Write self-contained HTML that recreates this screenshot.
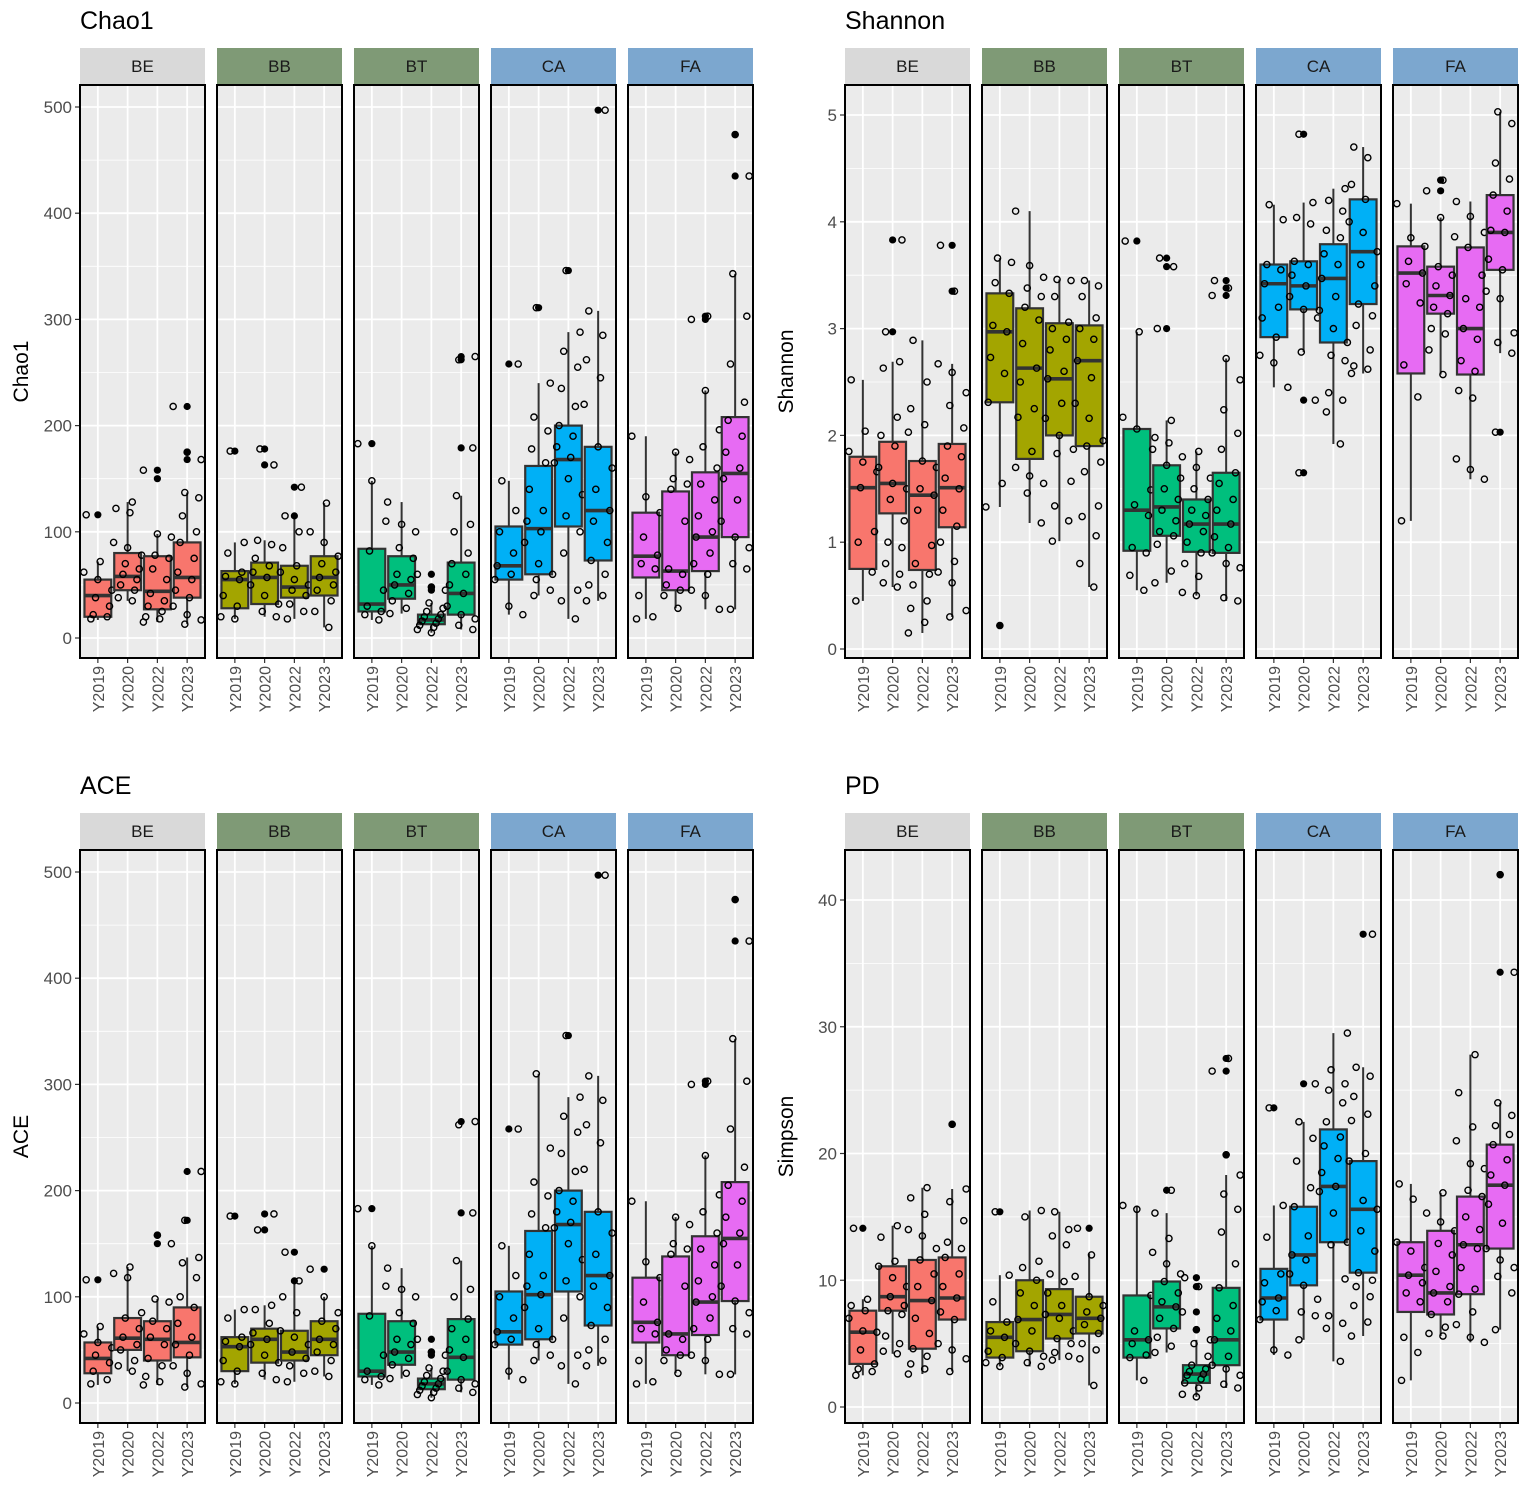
<!DOCTYPE html>
<html><head><meta charset="utf-8"><style>
html,body{margin:0;padding:0;background:#fff;}
svg{display:block;font-family:"Liberation Sans",Arial,sans-serif;}
</style></head><body>
<svg id="fig" width="1535" height="1498" viewBox="0 0 1535 1498"></svg>
<script>
const FACETS=['BE','BB','BT','CA','FA'];
const YEARS=['Y2019','Y2020','Y2022','Y2023'];
// stats per facet per year: [lo, q1, median, q3, hi]
const chao1Stats=[
[[17,20,40,55,72],[35,45,58,80,128],[15,27,44,77,98],[13,38,57,90,137]],
[[18,28,55,63,90],[20,32,57,71,92],[18,38,48,68,115],[10,40,57,77,127]],
[[17,25,32,84,148],[23,37,50,77,128],[5,13,17,22,33],[8,22,42,71,134]],
[[22,55,68,105,148],[40,60,103,162,240],[18,105,168,200,288],[35,73,120,180,308]],
[[18,57,77,118,190],[28,45,63,138,175],[27,63,95,156,233],[27,95,155,208,343]]];
const chao1Out=[[[116],[],[158,150],[218,175,168]],[[176],[178,163],[142,115],[]],[[183],[],[60,48,45],[265,262,179]],[[258],[311],[346],[497]],[[],[],[303,300],[474,435]]];
const chao1Pts=[
[[18,20,22,30,38,45,55,62,72,116],[35,38,45,50,55,60,65,70,78,85,90,118,122,128],[15,18,20,25,30,35,42,55,65,75,78,95,98,158],[13,17,22,30,38,45,55,62,75,90,100,115,132,137,168,175,218]],
[[18,20,30,40,55,58,62,80,90,176],[20,25,32,40,50,57,62,68,75,88,92,163,178],[18,25,32,40,45,50,55,62,68,85,100,115,142],[10,25,35,45,50,57,62,70,77,90,100,127]],
[[17,22,25,30,45,82,110,148,183],[23,28,35,42,50,55,60,75,85,100,107,128],[5,8,10,12,14,16,18,20,22,25,28,33,45,48,60],[8,12,18,22,30,42,50,60,70,80,100,107,134,179,262,265]],
[[22,30,55,60,68,80,100,120,148,258],[40,45,55,60,70,90,100,110,120,140,165,178,195,208,240,311],[18,35,45,80,100,115,135,150,165,170,180,190,200,218,235,255,270,288,346],[35,40,50,60,73,90,110,120,140,160,180,220,245,262,285,308,497]],
[[18,20,40,65,70,78,95,118,133,190],[28,40,45,50,60,65,110,140,145,150,168,175],[27,40,45,60,70,80,95,100,115,130,145,160,180,196,233,300,303],[27,65,70,85,95,110,130,150,160,175,190,205,222,258,303,343,435,474]]];

const shannonStats=[
[[.45,.75,1.51,1.8,2.52],[.58,1.27,1.55,1.94,2.69],[.15,.74,1.44,1.76,2.89],[.3,1.14,1.51,1.92,2.67]],
[[1.33,2.31,2.97,3.33,3.66],[1.18,1.78,2.63,3.19,4.1],[1.01,2.0,2.53,3.05,3.46],[.58,1.9,2.7,3.03,3.45]],
[[.55,.92,1.3,2.06,2.97],[.62,1.06,1.33,1.72,2.14],[.5,.91,1.17,1.4,1.85],[.45,.9,1.17,1.65,2.72]],
[[2.45,2.92,3.42,3.6,4.16],[2.78,3.18,3.4,3.63,4.18],[1.92,2.87,3.47,3.79,4.31],[2.58,3.23,3.72,4.21,4.7]],
[[1.2,2.58,3.52,3.77,4.17],[2.57,3.14,3.31,3.58,4.04],[1.59,2.57,3.0,3.76,4.19],[2.77,3.55,3.9,4.25,5.03]]];
const shannonOut=[[[],[3.83,2.97],[],[3.78,3.35]],[[.22],[],[],[]],[[3.82],[3.66,3.58,3.0],[],[3.45,3.38,3.31]],[[],[4.82,2.33,1.65],[],[]],[[],[4.39,4.29],[],[2.03]]];
const shannonPts=[
[[.45,.72,1.0,1.1,1.51,1.66,1.75,1.85,2.04,2.52],[.58,.62,.7,.8,.95,1.0,1.2,1.4,1.5,1.55,1.7,1.9,2.0,2.17,2.63,2.69,2.97,3.83],[.15,.25,.38,.45,.6,.7,.8,.97,1.3,1.44,1.5,1.7,1.76,2.03,2.1,2.25,2.5,2.89],[.3,.36,.62,.72,.82,1.0,1.15,1.3,1.5,1.6,1.8,1.9,2.07,2.28,2.4,2.59,2.67,3.35,3.78]],
[[.22,1.33,1.55,2.31,2.58,2.73,2.97,3.03,3.33,3.43,3.62,3.66],[1.18,1.46,1.55,1.62,1.7,1.85,2.17,2.25,2.5,2.63,2.86,3.08,3.2,3.3,3.38,3.48,3.59,4.1],[1.01,1.2,1.34,1.57,1.83,1.87,2.0,2.16,2.3,2.53,2.6,2.8,2.9,3.0,3.06,3.3,3.45,3.46],[.58,.8,1.06,1.24,1.34,1.66,1.75,1.9,1.95,2.16,2.3,2.54,2.7,2.9,3.0,3.1,3.3,3.4,3.45]],
[[.55,.69,.9,.95,1.25,1.35,1.49,2.06,2.17,2.97,3.82],[.62,.73,.98,1.06,1.1,1.2,1.3,1.4,1.5,1.6,1.72,1.87,1.93,1.98,2.14,3.0,3.58,3.66],[.5,.53,.68,.8,.9,1.0,1.1,1.17,1.25,1.3,1.4,1.5,1.6,1.7,1.8,1.85],[.45,.48,.76,.8,.9,.95,1.05,1.17,1.3,1.4,1.55,1.65,1.87,2.02,2.24,2.52,2.72,3.31,3.38,3.45]],
[[2.45,2.68,2.75,2.92,3.1,3.2,3.42,3.55,3.6,4.02,4.16],[1.65,2.33,2.78,3.1,3.18,3.3,3.4,3.5,3.6,3.63,3.98,4.04,4.18,4.82],[1.92,2.22,2.33,2.4,2.7,2.75,2.87,3.0,3.17,3.3,3.47,3.6,3.7,3.85,3.92,4.1,4.2,4.31],[2.58,2.62,2.65,2.8,3.03,3.12,3.23,3.4,3.6,3.72,3.9,4.0,4.21,4.35,4.6,4.7]],
[[1.2,2.36,2.66,3.24,3.42,3.52,3.63,3.77,3.85,4.17],[2.57,2.8,2.95,3.0,3.14,3.2,3.31,3.4,3.5,3.58,3.86,4.04,4.29,4.39],[1.59,1.68,1.78,2.35,2.42,2.6,2.7,2.9,3.0,3.2,3.28,3.5,3.76,3.9,4.05,4.19],[2.03,2.77,2.87,2.96,3.28,3.35,3.55,3.65,3.9,3.92,4.1,4.25,4.4,4.55,4.92,5.03]]];

const aceStats=[
[[17,28,42,57,72],[30,50,61,80,128],[17,40,60,77,98],[15,43,57,90,137]],
[[18,30,53,62,88],[22,38,60,70,92],[20,40,48,68,115],[25,45,60,77,100]],
[[17,25,30,84,148],[23,36,48,77,127],[5,13,18,23,33],[10,22,43,79,134]],
[[22,55,67,105,148],[40,60,102,162,310],[18,105,168,200,288],[35,73,120,180,308]],
[[18,57,76,118,190],[28,45,65,138,175],[27,64,95,157,233],[27,96,155,208,343]]];
const aceOut=[[[116],[],[158,150],[218,172]],[[176],[178,163],[142,115],[126]],[[183],[],[60,48,45],[265,179]],[[258],[],[346],[497]],[[],[],[303,300],[474,435]]];
const acePts=[
[[18,22,30,38,45,52,57,65,72,116],[30,35,40,50,55,62,70,80,85,118,122,128],[17,20,25,35,42,55,62,70,77,95,98,150,158],[15,18,28,35,45,55,62,75,90,100,118,132,137,172,218]],
[[18,20,30,40,53,58,62,80,88,176],[22,28,38,45,55,60,66,75,88,92,163,178],[20,28,35,42,48,55,62,68,85,100,115,142],[25,30,40,48,55,60,70,77,85,100,126]],
[[17,22,25,30,45,82,110,148,183],[23,28,36,42,48,55,60,75,85,100,107,127],[5,8,10,12,14,16,18,20,23,26,30,33,45,48,60],[10,14,18,22,30,43,50,60,70,79,100,107,134,179,262,265]],
[[22,30,55,60,67,80,100,120,148,258],[40,45,55,60,70,90,102,110,120,140,165,178,195,208,240,310],[18,35,45,80,100,115,135,150,165,170,180,190,200,218,235,255,270,288,346],[35,40,50,60,73,90,110,120,140,160,180,220,245,262,285,308,497]],
[[18,20,40,65,70,76,95,118,133,190],[28,40,45,50,60,65,110,140,145,150,168,175],[27,40,45,60,70,80,95,100,115,130,145,160,180,196,233,300,303],[27,65,70,85,96,110,130,150,160,175,190,205,222,258,303,343,435,474]]];

const pdStats=[
[[2.5,3.4,5.9,7.6,8.5],[4.2,7.6,8.7,11.1,14.3],[2.6,4.6,8.4,11.6,17.3],[2.8,6.9,8.6,11.8,17.2]],
[[3.2,3.9,5.5,6.7,10.4],[3.2,4.4,6.9,10.0,15.5],[3.7,5.4,7.3,9.3,15.4],[1.7,5.8,7.0,8.7,12.1]],
[[2.1,3.9,5.3,8.8,15.9],[4.3,6.2,7.9,9.9,15.3],[0.8,1.9,2.6,3.3,5.3],[1.5,3.3,5.3,9.4,18.3]],
[[4.1,6.9,8.6,10.9,15.9],[5.3,9.6,12.0,15.8,22.5],[3.6,13.0,17.4,21.9,29.5],[5.6,10.6,15.6,19.4,26.8]],
[[2.1,7.5,10.4,13.0,17.6],[5.6,7.3,9.0,13.9,16.9],[5.1,8.9,12.8,16.6,27.8],[6.1,12.5,17.5,20.7,24.0]]];
const pdOut=[[[14.1],[],[],[22.3]],[[15.4],[],[],[14.1]],[[],[17.1],[10.2,9.5,7.5,6.1],[27.5,26.5,19.9]],[[23.6],[25.5],[],[37.3]],[[],[],[],[42.0,34.3]]];
const pdPts=[
[[2.5,2.8,3.0,3.4,4.5,5.9,6.0,7.0,7.6,8.0,8.5,14.1],[4.2,4.4,5.0,5.6,7.3,7.6,8.0,8.7,9.5,10.2,11.1,11.5,13.4,14.3],[2.6,3.0,3.4,4.0,4.6,5.8,7.0,8.4,9.5,10.5,11.6,12.5,13.5,14.0,15.2,16.5,17.3],[2.8,3.8,4.5,5.0,6.9,7.5,8.6,9.5,10.5,11.8,12.5,13.0,14.7,16.2,17.2,22.3]],
[[3.2,3.5,3.9,4.4,5.5,6.0,6.7,8.3,10.4,15.4],[3.2,3.5,4.0,4.4,5.0,6.0,6.9,8.0,9.0,10.0,11.0,11.5,15.0,15.5],[3.7,4.0,4.3,5.0,5.4,6.0,7.0,7.3,8.0,9.0,9.9,10.5,12.8,13.5,14.0,15.4],[1.7,3.8,4.5,5.0,5.8,6.5,7.0,7.5,8.0,8.7,10.3,12.0,14.1]],
[[2.1,3.9,4.1,5.0,5.3,6.0,8.8,15.6,15.9],[4.3,4.8,5.5,6.2,7.0,7.9,8.3,9.0,9.9,10.5,11.3,12.2,13.3,15.3,17.1],[0.8,1.0,1.5,1.9,2.2,2.5,2.6,2.8,3.0,3.3,4.0,5.0,5.3,6.1,7.5,9.5,10.2],[1.5,1.8,2.5,3.0,3.3,4.0,5.3,6.0,7.0,8.0,9.4,11.3,13.8,15.6,16.8,18.3,19.9,26.5,27.5]],
[[4.1,4.5,6.9,7.6,8.3,8.6,9.8,10.5,13.4,15.9,23.6],[5.3,7.2,7.5,8.5,9.6,10.5,11.6,12.0,13.5,15.8,17.3,19.4,21.2,22.5,25.5],[3.6,6.2,6.6,7.2,10.1,12.8,13.0,15.3,17.0,17.4,18.5,19.6,20.6,21.3,22.5,24.0,25.0,25.5,26.6,29.5],[5.6,6.7,8.0,8.7,9.5,10.0,10.6,12.3,13.9,15.6,16.3,19.4,20.0,22.6,23.1,24.5,26.1,26.8,37.3]],
[[2.1,4.3,5.5,8.3,9.0,9.8,10.4,11.0,12.3,13.0,16.4,17.6],[5.6,5.8,6.3,7.3,8.3,9.0,9.5,10.7,12.0,12.9,13.9,14.6,15.3,16.9],[5.1,5.5,6.5,7.5,8.9,9.3,11.0,12.5,12.8,14.0,15.0,16.6,17.1,18.8,19.2,21.0,22.1,24.8,27.8],[6.1,9.0,10.3,11.0,11.6,12.5,14.5,16.0,17.5,18.3,19.5,20.7,21.5,22.2,23.0,24.0,34.3,42.0]]];

const chao1Ticks=[0,100,200,300,400,500];
const shannonTicks=[0,1,2,3,4,5];
const aceTicks=[0,100,200,300,400,500];
const pdTicks=[0,10,20,30,40];

const NS='http://www.w3.org/2000/svg';
const svg=document.getElementById('fig');
function mk(tag,attrs,parent){const e=document.createElementNS(NS,tag);for(const k in attrs)e.setAttribute(k,attrs[k]);(parent||svg).appendChild(e);return e;}

const stripFill=['#d9d9d9','#7f9a76','#7f9a76','#7ca7cf','#7ca7cf'];
const boxFill=['#F8766D','#A3A500','#00BF7D','#00B0F6','#E76BF3'];

const panels=[
 {key:'chao1',title:'Chao1',ylab:'Chao1',x0:80,top:48,bottom:658,v1:500,p0:638,p1:107,stats:chao1Stats,out:chao1Out,pts:chao1Pts,ticks:chao1Ticks,minorStep:50},
 {key:'shannon',title:'Shannon',ylab:'Shannon',x0:845,top:48,bottom:658,v1:5,p0:649,p1:115,stats:shannonStats,out:shannonOut,pts:shannonPts,ticks:shannonTicks,minorStep:0.5},
 {key:'ace',title:'ACE',ylab:'ACE',x0:80,top:813,bottom:1423,v1:500,p0:1403,p1:872,stats:aceStats,out:aceOut,pts:acePts,ticks:aceTicks,minorStep:50},
 {key:'pd',title:'PD',ylab:'Simpson',x0:845,top:813,bottom:1423,v1:40,p0:1407,p1:900,stats:pdStats,out:pdOut,pts:pdPts,ticks:pdTicks,minorStep:5}];

const FW=125, FGAP=137, STRIPH=36;
panels.forEach(P=>{
  const y=v=>P.p0+(P.p1-P.p0)*v/P.v1;
  const g=mk('g',{});
  
  
  const t=mk('text',{x:P.x0,y:P.top-19,'font-size':25,fill:'#000'},g);
  t.textContent=P.title;
  
  
  const plotTop=P.top+STRIPH+1, plotBot=P.bottom;
  const yt=mk('text',{x:0,y:0,'font-size':21,fill:'#000','text-anchor':'middle',transform:`translate(${P.x0-52},${(plotTop+plotBot)/2}) rotate(-90)`},g);
  yt.textContent=P.ylab;
  
  
  P.ticks.forEach(tv=>{
    mk('line',{x1:P.x0-5,x2:P.x0,y1:y(tv),y2:y(tv),stroke:'#333','stroke-width':1.2},g);
    const tl=mk('text',{x:P.x0-8,y:y(tv)+6,'font-size':17,fill:'#4d4d4d','text-anchor':'end'},g);
    tl.textContent=tv;
    
    
  });
  const maxT=P.ticks[P.ticks.length-1];
  FACETS.forEach((f,fi)=>{
    const fx=P.x0+fi*FGAP;
    const fg=mk('g',{},g);
    
    
    const st=mk('rect',{x:fx,y:P.top,width:FW,height:STRIPH,fill:stripFill[fi]},fg);
    
    
    const stt=mk('text',{x:fx+FW/2,y:P.top+STRIPH/2+6,'font-size':17,fill:'#1a1a1a','text-anchor':'middle'},fg);
    stt.textContent=f;
    
    
    mk('rect',{x:fx,y:plotTop,width:FW,height:plotBot-plotTop,fill:'#ebebeb'},fg);
    for(let m=P.minorStep;m<maxT+P.minorStep*1.5;m+=P.minorStep*2){
      const yy=y(m); if(yy>plotTop) mk('line',{x1:fx,x2:fx+FW,y1:yy,y2:yy,stroke:'#fff','stroke-width':0.8},fg);
    }
    P.ticks.forEach(tv=>mk('line',{x1:fx,x2:fx+FW,y1:y(tv),y2:y(tv),stroke:'#fff','stroke-width':1.8},fg));
    const step=FW/4.2;
    const cx=i=>fx+step*(0.6+i);
    YEARS.forEach((yr,i)=>mk('line',{x1:cx(i),x2:cx(i),y1:plotTop,y2:plotBot,stroke:'#fff','stroke-width':1.8},fg));
    YEARS.forEach((yr,i)=>{
      const s=P.stats[fi][i], c=cx(i), bw=step*0.9;
      const bg=mk('g',{},fg);
      
      
      mk('line',{x1:c,x2:c,y1:y(s[0]),y2:y(s[1]),stroke:'#333','stroke-width':2},bg);
      mk('line',{x1:c,x2:c,y1:y(s[3]),y2:y(s[4]),stroke:'#333','stroke-width':2},bg);
      mk('rect',{x:c-bw/2,y:y(s[3]),width:bw,height:y(s[1])-y(s[3]),fill:boxFill[fi],stroke:'#333','stroke-width':2.2},bg);
      mk('line',{x1:c-bw/2,x2:c+bw/2,y1:y(s[2]),y2:y(s[2]),stroke:'#333','stroke-width':3.6},bg);
      P.out[fi][i].forEach(o=>{
        const oc=mk('circle',{cx:c,cy:y(o),r:3.6,fill:'#000'},bg);
        
        
      });
      P.pts[fi][i].forEach((v,k)=>{
        const jx=(((k*7+fi*3+i*5+3)%13)/12-0.5)*28;
        const pc=mk('circle',{cx:c+jx,cy:y(v),r:3.1,fill:'none',stroke:'#000','stroke-width':1.4},bg);
        
        
      });
      mk('line',{x1:c,x2:c,y1:plotBot,y2:plotBot+5,stroke:'#333','stroke-width':1.2},fg);
      const xl=mk('text',{x:0,y:0,'font-size':16,fill:'#4d4d4d','text-anchor':'end',transform:`translate(${c+6},${plotBot+8}) rotate(-90)`},fg);
      xl.textContent=yr;
      
      
    });
    mk('rect',{x:fx,y:plotTop,width:FW,height:plotBot-plotTop,fill:'none',stroke:'#000','stroke-width':2},fg);
  });
});
</script>
</body></html>
